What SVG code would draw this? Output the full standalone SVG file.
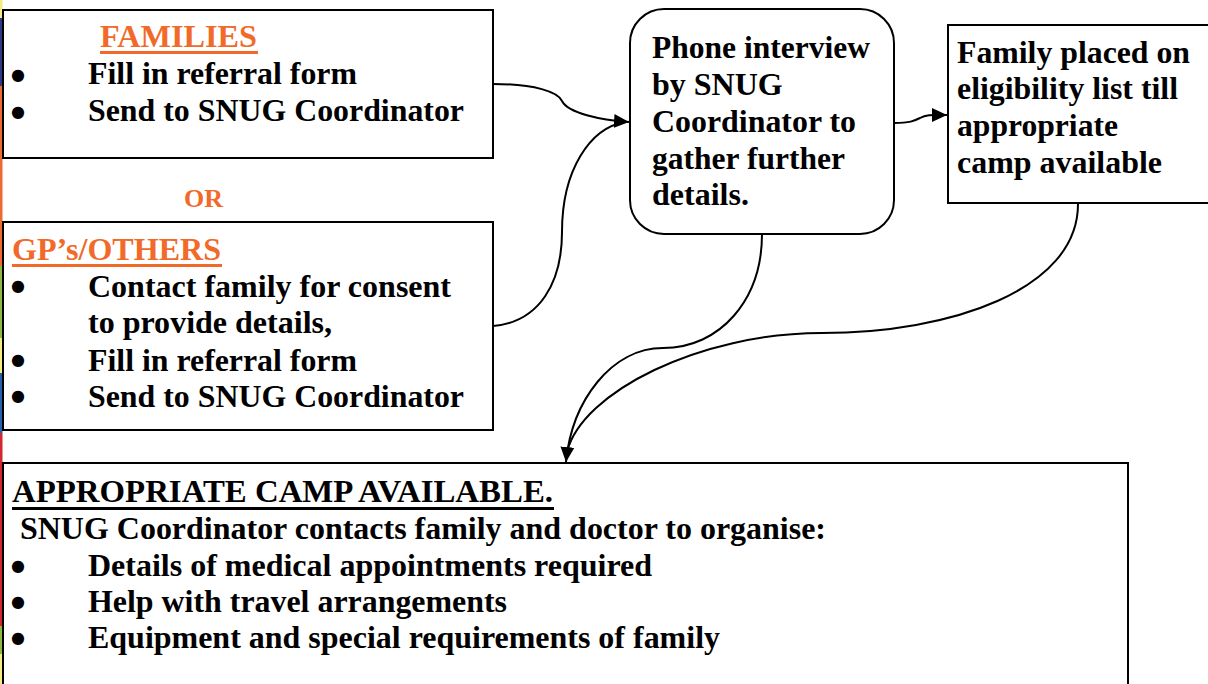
<svg xmlns="http://www.w3.org/2000/svg" width="1208" height="684" viewBox="0 0 1208 684">
<style>
.box{fill:#fff;stroke:#000;stroke-width:2}
.t{font-family:"Liberation Serif","Times New Roman",serif;font-weight:bold;font-size:32px;fill:#000}
.o{fill:#F26A2A}
.b{font-family:"DejaVu Sans",sans-serif;font-size:16px;fill:#000}
.c{fill:none;stroke:#000;stroke-width:2}
</style>
<defs>
<marker id="ah" markerUnits="userSpaceOnUse" markerWidth="16" markerHeight="16" viewBox="0 0 16 16" refX="15" refY="8" orient="auto">
<path d="M0,1 L15,8 L0,15 Z" fill="#000"/>
</marker>
</defs>
<rect width="1208" height="684" fill="#fff"/>
<g id="stripe">
<rect x="0" y="0" width="2.5" height="18" fill="#F3EC7E"/>
<rect x="0" y="18" width="2.5" height="68" fill="#2E3884"/>
<rect x="0" y="86" width="2.5" height="180" fill="#EE6A33"/>
<rect x="0" y="266" width="2.5" height="72" fill="#8CB844"/>
<rect x="0" y="338" width="2.5" height="35" fill="#F3EC7E"/>
<rect x="0" y="373" width="2.5" height="60" fill="#2462AE"/>
<rect x="0" y="433" width="2.5" height="193" fill="#D4262E"/>
<rect x="0" y="626" width="2.5" height="28" fill="#8CB844"/>
<rect x="0" y="654" width="2.5" height="30" fill="#F3EC7E"/>
</g>
<g id="connectors">
<path class="c" d="M493,84 C535,84 558,92 562,101 C568,113 600,120 629,122" marker-end="url(#ah)"/>
<path class="c" d="M493,326 C540,322 562,282 562,232 C562,170 590,128 625,122"/>
<path class="c" d="M894,123 C910,123 914,121 920,118 C927,114 934,115 947,115" marker-end="url(#ah)"/>
<path class="c" d="M762,234 C762,300 720,348 663,348 C612,348 572,400 566,462" marker-end="url(#ah)"/>
<path class="c" d="M1078,204 C1078,290 950,333 822,333 C700,333 582,392 567,452"/>
</g>
<g id="families">
<rect class="box" x="3" y="10" width="490" height="148"/>
<text class="t o" x="100" y="47" textLength="157" lengthAdjust="spacingAndGlyphs">FAMILIES</text>
<rect x="100" y="51" width="158" height="3" fill="#F26A2A"/>
<text class="b" x="11" y="80">●</text>
<text class="t" x="88" y="84" textLength="269" lengthAdjust="spacingAndGlyphs">Fill in referral form</text>
<text class="b" x="11" y="117">●</text>
<text class="t" x="88" y="121" textLength="376" lengthAdjust="spacingAndGlyphs">Send to SNUG Coordinator</text>
</g>
<g id="or">
<text class="t o" x="184" y="207" style="font-size:26px" textLength="39" lengthAdjust="spacingAndGlyphs">OR</text>
</g>
<g id="gps">
<rect class="box" x="3" y="222" width="490" height="208"/>
<text class="t o" x="12" y="260" textLength="209" lengthAdjust="spacingAndGlyphs">GP’s/OTHERS</text>
<rect x="12" y="264" width="210" height="3" fill="#F26A2A"/>
<text class="b" x="11" y="291">●</text>
<text class="t" x="88" y="297" textLength="363" lengthAdjust="spacingAndGlyphs">Contact family for consent</text>
<text class="t" x="88" y="333" textLength="244" lengthAdjust="spacingAndGlyphs">to provide details,</text>
<text class="b" x="11" y="365">●</text>
<text class="t" x="88" y="371" textLength="269" lengthAdjust="spacingAndGlyphs">Fill in referral form</text>
<text class="b" x="11" y="401">●</text>
<text class="t" x="88" y="407" textLength="376" lengthAdjust="spacingAndGlyphs">Send to SNUG Coordinator</text>
</g>
<g id="phone">
<rect class="box" x="630" y="9" width="264" height="225" rx="34" ry="34"/>
<text class="t" x="652" y="58" textLength="218" lengthAdjust="spacingAndGlyphs">Phone interview</text>
<text class="t" x="652" y="95">by SNUG</text>
<text class="t" x="652" y="132" textLength="204" lengthAdjust="spacingAndGlyphs">Coordinator to</text>
<text class="t" x="652" y="169" textLength="193" lengthAdjust="spacingAndGlyphs">gather further</text>
<text class="t" x="652" y="205">details.</text>
</g>
<g id="eligibility">
<rect class="box" x="948" y="25" width="270" height="178"/>
<text class="t" x="957" y="63" textLength="233" lengthAdjust="spacingAndGlyphs">Family placed on</text>
<text class="t" x="957" y="99" textLength="221" lengthAdjust="spacingAndGlyphs">eligibility list till</text>
<text class="t" x="957" y="136" textLength="161" lengthAdjust="spacingAndGlyphs">appropriate</text>
<text class="t" x="957" y="173" textLength="205" lengthAdjust="spacingAndGlyphs">camp available</text>
</g>
<g id="camp">
<rect class="box" x="3" y="463" width="1125" height="240"/>
<text class="t" x="12" y="502" textLength="541" lengthAdjust="spacingAndGlyphs">APPROPRIATE CAMP AVAILABLE.</text>
<rect x="12" y="507" width="542" height="3" fill="#000"/>
<text class="t" x="20" y="539" textLength="806" lengthAdjust="spacingAndGlyphs">SNUG Coordinator contacts family and doctor to organise:</text>
<text class="b" x="11" y="571">●</text>
<text class="t" x="88" y="576" textLength="564" lengthAdjust="spacingAndGlyphs">Details of medical appointments required</text>
<text class="b" x="11" y="607">●</text>
<text class="t" x="88" y="612" textLength="419" lengthAdjust="spacingAndGlyphs">Help with travel arrangements</text>
<text class="b" x="11" y="643">●</text>
<text class="t" x="88" y="648" textLength="632" lengthAdjust="spacingAndGlyphs">Equipment and special requirements of family</text>
</g>
</svg>
